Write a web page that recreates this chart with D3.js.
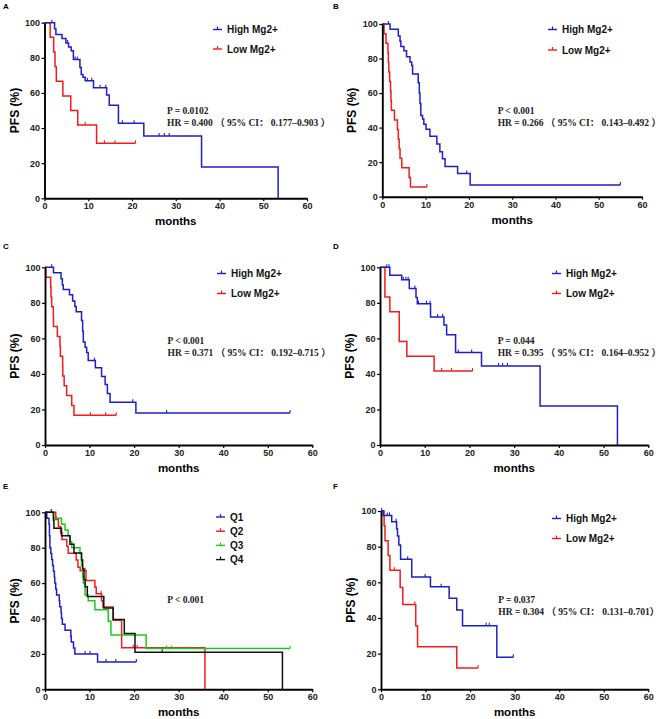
<!DOCTYPE html>
<html>
<head>
<meta charset="utf-8">
<script src="https://cdn.jsdelivr.net/npm/d3@7"></script>
<style>
  body { margin: 0; background: #fff; }
  text { font-family: "Liberation Sans", Arial, sans-serif; }
</style>
</head>
<body>
<svg></svg>
<script>
// ticks
const xTicks = [0, 10, 20, 30, 40, 50, 60]
const yTicks = [0, 20, 40, 60, 80, 100]

// KM steps: [month, PFS %] -- survival drops to the value at that month
// A
const aHighSteps = [[0,100],[2.3,96.5],[2.6,93.3],[4.0,91],[4.9,88.5],[5.5,86.2],[6.1,84],[6.6,79],[8.1,74.5],[8.4,70.5],[8.8,69],[9.3,67],[11.2,63],[14.2,58.8],[14.8,53],[16.9,42.7],[22.7,35.5],[35.9,17.8],[53.4,0]]
const aHighCensor = [1.7, 5.3, 7.0, 7.5, 9.8, 10.8, 12.7, 14.0, 17.8, 20.5, 26.2, 27.4, 28.5]
const aLowSteps = [[0,100],[1.3,91.7],[2.1,83.3],[2.4,75],[2.7,66.7],[4.2,58.3],[6.0,50],[7.6,41.7],[11.9,31.3]]
const aLowCensor = [9.3, 13.7, 16.1, 20.8]
// B
const bHighSteps = [[0,100],[1.8,97],[3.7,93],[4.1,90],[4.3,87],[5.0,84.5],[5.6,81],[6.4,78],[6.8,76],[7.0,71],[8.3,66],[8.55,60],[8.7,54],[8.9,47],[9.3,45],[9.6,42],[10.1,39],[11.0,35],[12.6,30.5],[13.3,26],[13.9,22],[14.5,17.5],[17.4,13.5],[20.3,6.8]]
const bHighCensor = [1.4, 19.5, 55]
const bLowSteps = [[0,100],[0.4,94.4],[0.85,88.9],[1.3,83.3],[1.4,77.8],[1.5,72.2],[1.7,66.7],[1.9,61.1],[2.0,55.6],[2.1,50],[2.8,44.4],[3.5,38.9],[3.7,33.3],[3.9,27.8],[4.1,22.2],[4.5,16.7],[6.2,11.1],[6.5,5.6]]
const bLowCensor = [10.3]
// C
const cHighSteps = [[0,100],[1.9,97],[3.6,93.5],[3.9,90],[4.1,87.5],[5.5,84.5],[6.2,81],[6.7,78],[7.0,75],[8.2,70],[8.45,64],[8.6,58],[9.0,55],[9.35,52],[9.7,47.5],[11.3,43.5],[12.7,38.5],[13.5,34],[14.0,29],[14.6,24],[20.4,18]]
const cHighCensor = [1.5, 11.1, 19.7, 27.3, 55]
const cLowSteps = [[0,100],[0.15,94.4],[1.27,88.9],[1.35,83.3],[1.5,77.8],[1.87,72.2],[1.9,66.7],[2.77,61.1],[3.37,55.6],[3.45,50],[3.96,44.4],[4.0,38.9],[4.3,33.3],[4.86,27.8],[6.0,22.2],[6.5,16.7]]
const cLowCensor = [10.2, 13.6, 16.0]
// D
const dHighSteps = [[0,100],[2.2,95.5],[4.85,93],[6.55,88],[8.05,83],[8.35,79.5],[11.3,72],[14.3,67.5],[14.9,62],[16.9,52],[22.7,44.5],[35.8,22],[53.1,0]]
const dHighCensor = [1.5, 2.0, 5.2, 5.8, 6.3, 7.8, 8.6, 10.4, 11.2, 12.9, 14.0, 17.5, 20.5, 26.5, 27.4, 28.5]
const dLowSteps = [[0,100],[1.1,83.3],[2.2,75],[4.3,58.3],[6.0,50],[12.1,41.7]]
const dLowCensor = [13.8, 16.0, 20.7]
// E (quartiles)
const q1Steps = [[0,100],[0.4,96.7],[0.9,93.3],[1.0,86.7],[1.1,80],[1.3,76.7],[1.5,73.3],[1.7,70],[1.9,66.7],[2.1,63.3],[2.2,60],[2.4,56.7],[2.6,53.3],[3.2,50],[3.3,46.7],[3.6,43.3],[3.7,40],[3.9,36.7],[4.5,33.3],[5.8,30],[5.9,26.7],[6.4,23.3],[6.7,20],[11.8,15.4]]
const q1Censor = [9.0, 10.1, 13.7, 15.9, 20.5]
const q2Steps = [[0,100],[2.4,96],[3.0,92],[3.5,88.5],[3.8,84.6],[4.9,80.8],[5.2,76.9],[7.0,73],[7.4,69],[7.9,67],[9.2,61.5],[11.2,57.7],[11.5,54],[12.7,50],[13.0,46.5],[15.3,39],[17.2,23.5],[35.9,0]]
const q2Censor = [2.6, 9.0, 12.6, 19.8, 20.7]
const q3Steps = [[0,100],[1.9,96.7],[3.7,93.3],[4.5,90],[5.2,86.7],[5.6,83.3],[6.0,80],[7.85,76.7],[8.2,70],[8.45,63.3],[8.6,60],[9.0,53.3],[9.7,50],[11.2,45],[14.2,38.5],[14.8,30.7],[22.7,23]]
const q3Censor = [1.5, 27.3, 28.4, 55]
const q4Steps = [[0,100],[1.9,95.5],[2.0,91],[3.7,86.7],[5.6,82],[6.5,77],[8.2,73],[8.45,68],[8.75,62],[9.0,58],[9.5,52.5],[13.2,46],[15.3,39.5],[17.8,31.5],[20.2,21],[53.3,0]]
const q4Censor = [1.4, 26.3]
// F
const fHighSteps = [[0,100],[0.5,97.5],[2.4,94],[3.5,90],[3.7,86],[4.0,81],[4.4,73],[6.9,63],[11.1,57.5],[15.3,51],[17.0,44.5],[18.3,35.7],[26.0,18]]
const fHighCensor = [0.15, 1.4, 1.9, 3.4, 6.0, 9.9, 13.5, 23.6, 24.3, 29.7]
const fLowSteps = [[0,100],[0.7,91.7],[0.9,83.3],[1.6,75],[2.0,66.7],[4.3,57.1],[4.9,47.6],[7.8,35.7],[8.2,23.8],[17.0,11.9]]
const fLowCensor = [3.0, 7.6, 21.8]

const mgLegend = ["High Mg2+", "Low Mg2+"]
const qLegend = ["Q1", "Q2", "Q3", "Q4"]

const blue = "#1f1fc8", red = "#f21c1c", green = "#1fc81f", black = "#111"

const width = 661, height = 719
const svg = d3.select("svg").attr("width", width).attr("height", height)

const panels = [
  {label: "A", lx: 3, ly: 9, box: [44.5, 307, 22.7, 198.3],
   curves: [{steps: aLowSteps, censor: aLowCensor, color: red}, {steps: aHighSteps, censor: aHighCensor, color: blue}],
   legend: {x: 213, y: 29.5, gap: 19.5, items: [[mgLegend[0], blue], [mgLegend[1], red]]},
   stats: {x: 167, y: 113.5, lines: ["P = 0.0102", "HR = 0.400 （ 95% CI：  0.177–0.903 ）"]}},
  {label: "B", lx: 333, ly: 9, box: [382.3, 642, 24, 196.7],
   curves: [{steps: bLowSteps, censor: bLowCensor, color: red}, {steps: bHighSteps, censor: bHighCensor, color: blue}],
   legend: {x: 548, y: 29.5, gap: 20.5, items: [[mgLegend[0], blue], [mgLegend[1], red]]},
   stats: {x: 497.7, y: 113.5, lines: ["P < 0.001", "HR = 0.266 （ 95% CI：  0.143–0.492 ）"]}},
  {label: "C", lx: 3, ly: 249, box: [45, 312.3, 267.3, 445],
   curves: [{steps: cLowSteps, censor: cLowCensor, color: red}, {steps: cHighSteps, censor: cHighCensor, color: blue}],
   legend: {x: 217, y: 273.5, gap: 20, items: [[mgLegend[0], blue], [mgLegend[1], red]]},
   stats: {x: 167.5, y: 343.5, lines: ["P < 0.001", "HR = 0.371 （ 95% CI：  0.192–0.715 ）"]}},
  {label: "D", lx: 333, ly: 249, box: [380, 648.3, 267.3, 445],
   curves: [{steps: dLowSteps, censor: dLowCensor, color: red}, {steps: dHighSteps, censor: dHighCensor, color: blue}],
   legend: {x: 552, y: 273.5, gap: 20, items: [[mgLegend[0], blue], [mgLegend[1], red]]},
   stats: {x: 497.7, y: 343.5, lines: ["P = 0.044", "HR = 0.395 （ 95% CI：  0.164–0.952 ）"]}},
  {label: "E", lx: 3, ly: 489, box: [45, 312.3, 512.3, 689.3],
   curves: [{steps: q1Steps, censor: q1Censor, color: blue}, {steps: q2Steps, censor: q2Censor, color: red},
            {steps: q3Steps, censor: q3Censor, color: green}, {steps: q4Steps, censor: q4Censor, color: black}],
   legend: {x: 216, y: 517, gap: 14.2, items: [[qLegend[0], blue], [qLegend[1], red], [qLegend[2], green], [qLegend[3], black]]},
   stats: {x: 167.3, y: 603, lines: ["P < 0.001"]}},
  {label: "F", lx: 333, ly: 489, box: [381, 648.3, 511, 689.3],
   curves: [{steps: fLowSteps, censor: fLowCensor, color: red}, {steps: fHighSteps, censor: fHighCensor, color: blue}],
   legend: {x: 552, y: 518.5, gap: 20, items: [[mgLegend[0], blue], [mgLegend[1], red]]},
   stats: {x: 498.3, y: 602.5, lines: ["P = 0.037", "HR = 0.304 （ 95% CI：  0.131–0.701）"]}}
]

// survival level at time t
const levelAt = (steps, t) => {
  let s = steps[0][1]
  steps.forEach(d => { if (d[0] <= t) s = d[1] })
  return s
}

panels.forEach(p => {
  const [x0, x1, yTop, yBot] = p.box
  const x = d3.scaleLinear().domain([0, 60]).range([x0, x1])
  const y = d3.scaleLinear().domain([0, 100]).range([yBot, yTop])
  const g = svg.append("g")

  g.append("text").attr("x", p.lx).attr("y", p.ly)
    .attr("font-size", 8).attr("font-weight", "bold").text(p.label)

  // curves
  p.curves.forEach(c => {
    const lastT = d3.max(c.censor.concat(c.steps.map(d => d[0])))
    const pts = c.steps.slice()
    if (pts[pts.length - 1][1] > 0) pts.push([lastT, levelAt(c.steps, lastT)])
    g.append("path")
      .datum(pts)
      .attr("fill", "none")
      .attr("stroke", c.color)
      .attr("stroke-width", 1.5)
      .attr("d", d3.line().x(d => x(d[0])).y(d => y(d[1])).curve(d3.curveStepAfter))
    g.append("g").selectAll("line").data(c.censor).enter().append("line")
      .attr("x1", d => x(d)).attr("x2", d => x(d))
      .attr("y1", d => y(levelAt(c.steps, d)))
      .attr("y2", d => y(levelAt(c.steps, d)) - 3)
      .attr("stroke", c.color).attr("stroke-width", 1.1)
  })

  // axes
  const xAxisG = g.append("g").attr("transform", `translate(0,${yBot})`)
    .call(d3.axisBottom(x).tickValues(xTicks).tickSize(3).tickSizeOuter(0).tickPadding(1.5))
  const yAxisG = g.append("g").attr("transform", `translate(${x0},0)`)
    .call(d3.axisLeft(y).tickValues(yTicks).tickSize(3).tickSizeOuter(0).tickPadding(1.5))
  ;[xAxisG, yAxisG].forEach(a => {
    a.select(".domain").attr("stroke", "#000").attr("stroke-width", 1.9)
    a.selectAll(".tick line").attr("stroke", "#000").attr("stroke-width", 1.2)
    a.selectAll(".tick text").attr("font-size", 9).attr("font-weight", "bold")
      .attr("fill", "#222").style("font-family", "'Liberation Sans', Arial, sans-serif")
  })

  g.append("text").attr("x", (x0 + x1) / 2).attr("y", yBot + 27)
    .attr("text-anchor", "middle").attr("font-size", 11.5).attr("font-weight", "bold").text("months")
  g.append("text")
    .attr("transform", `translate(${x0 - 26},${(yTop + yBot) / 2}) rotate(-90)`)
    .attr("text-anchor", "middle").attr("font-size", 12).attr("font-weight", "bold").text("PFS (%)")

  // legend
  const lg = g.append("g")
  p.legend.items.forEach((it, i) => {
    const ly = p.legend.y + i * p.legend.gap
    lg.append("line").attr("x1", p.legend.x).attr("x2", p.legend.x + 9)
      .attr("y1", ly).attr("y2", ly).attr("stroke", it[1]).attr("stroke-width", 1.4)
    lg.append("line").attr("x1", p.legend.x + 4.5).attr("x2", p.legend.x + 4.5)
      .attr("y1", ly).attr("y2", ly - 3).attr("stroke", it[1]).attr("stroke-width", 1.2)
    lg.append("text").attr("x", p.legend.x + 14).attr("y", ly + 3.6)
      .attr("font-size", 10).attr("font-weight", "bold").attr("fill", "#111").text(it[0])
  })

  // statistics
  p.stats.lines.forEach((s, i) => {
    g.append("text").attr("x", p.stats.x).attr("y", p.stats.y + i * 12.3)
      .style("font-family", "'Liberation Serif', 'Noto Sans CJK SC', 'Times New Roman', serif")
      .attr("font-size", 9.5).attr("font-weight", "bold").attr("fill", "#222").text(s)
  })
})
</script>
</body>
</html>
